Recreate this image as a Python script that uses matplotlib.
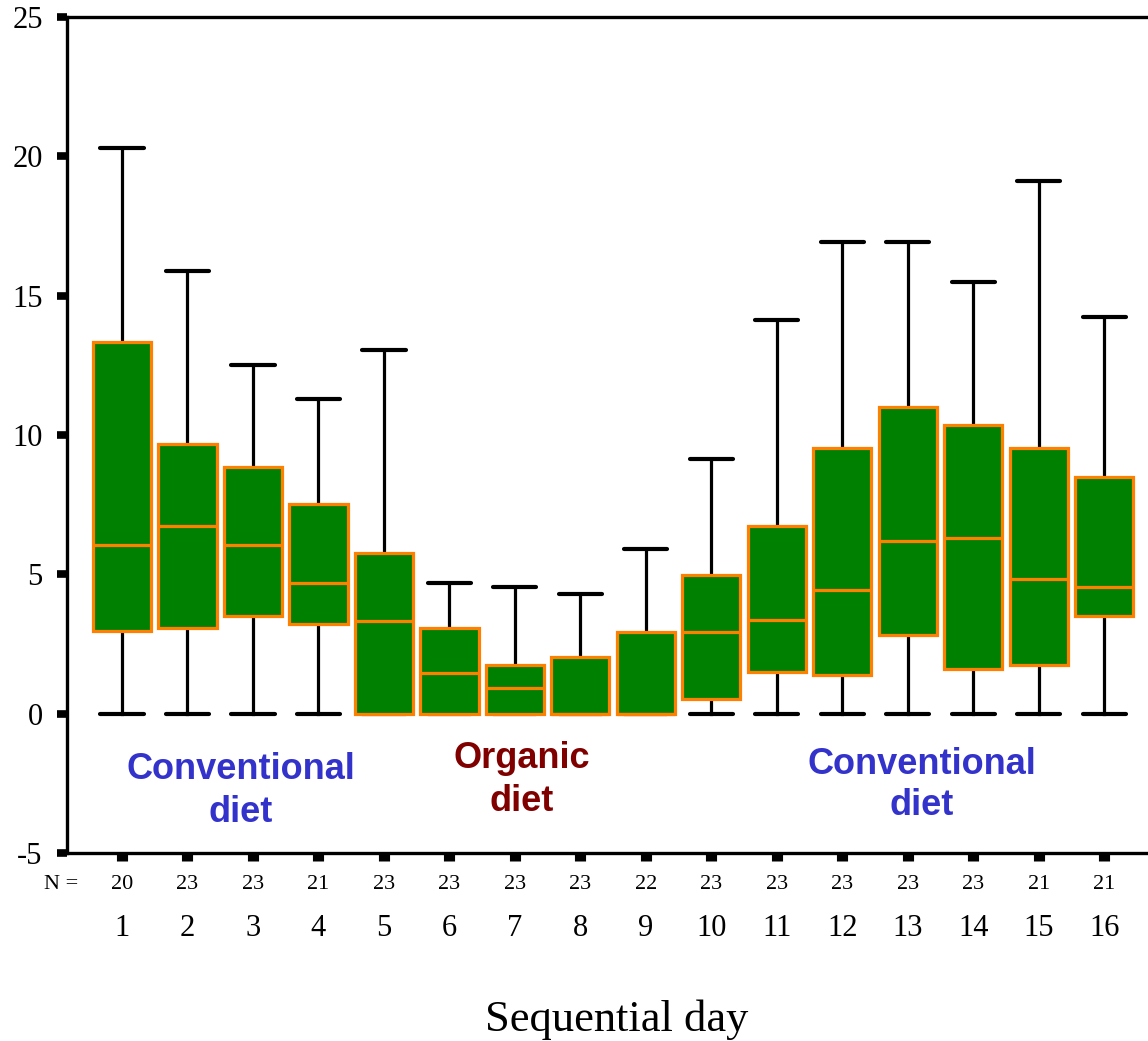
import matplotlib
matplotlib.use("Agg")
import matplotlib.pyplot as plt

plt.rcParams['axes.unicode_minus'] = False

days = list(range(1, 17))
n_counts = [20, 23, 23, 21, 23, 23, 23, 23, 22, 23, 23, 23, 23, 23, 21, 21]
whis_lo = [0, 0, 0, 0, 0, 0, 0, 0, 0, 0, 0, 0, 0, 0, 0, 0]
q1 = [2.97, 3.08, 3.51, 3.22, 0, 0, 0, 0, 0, 0.54, 1.48, 1.37, 2.84, 1.60, 1.75, 3.51]
median = [6.05, 6.74, 6.05, 4.70, 3.33, 1.46, 0.92, 0, 0, 2.94, 3.35, 4.45, 6.18, 6.31, 4.83, 4.55]
q3 = [13.33, 9.66, 8.85, 7.54, 5.77, 3.09, 1.73, 2.04, 2.94, 4.96, 6.73, 9.53, 11.02, 10.35, 9.53, 8.48]
whis_hi = [20.3, 15.9, 12.52, 11.29, 13.05, 4.70, 4.55, 4.30, 5.92, 9.15, 14.12, 16.93, 16.93, 15.48, 19.1, 14.25]
yticks = [-5, 0, 5, 10, 15, 20, 25]

W, H = 1148, 1041
fig = plt.figure(figsize=(W / 100, H / 100), dpi=100)
ax = fig.add_axes([67 / W, 1 - 853 / H, 1 - 67 / W, (853 - 17) / H])

stats = []
for i in range(len(days)):
    stats.append(dict(whislo=whis_lo[i], q1=q1[i], med=median[i], q3=q3[i],
                      whishi=whis_hi[i], fliers=[], label=str(days[i])))

orange = '#ff8000'
green = '#008000'
ax.bxp(stats, positions=days, widths=0.89, capwidths=0.66, patch_artist=True,
       showfliers=False,
       boxprops=dict(facecolor=green, edgecolor=orange, linewidth=2.3, zorder=3),
       medianprops=dict(color=orange, linewidth=2.3, zorder=4),
       whiskerprops=dict(color='black', linewidth=2.3, zorder=2),
       capprops=dict(color='black', linewidth=3.0, zorder=2, solid_capstyle='round'),
       manage_ticks=False)

ax.set_xlim(0.16, 16.67)
ax.set_ylim(-5, 25)
ax.set_yticks(yticks)
ax.set_yticklabels([str(v) for v in yticks], fontsize=22, family='Liberation Serif')
ax.set_xticks(days)
ax.set_xticklabels([str(d) for d in days], fontsize=22, family='Liberation Serif')

ax.spines['right'].set_visible(False)
for s in ['left', 'top', 'bottom']:
    ax.spines[s].set_linewidth(2.4)
ax.tick_params(axis='y', direction='out', length=7.5, width=5.5, pad=10)
ax.tick_params(axis='x', direction='out', length=6, width=8, pad=38)

serif = 'Liberation Serif'
for d, n in zip(days, n_counts):
    ax.text(d, -0.0375, str(n), transform=ax.get_xaxis_transform(),
            ha='center', va='center', fontsize=16, family=serif, clip_on=False)
ax.text(0.068, -0.0375, 'N =', transform=ax.get_xaxis_transform(),
        ha='center', va='center', fontsize=16, family=serif, clip_on=False)

blue = '#3333cc'
dred = '#800000'
ax.text(2.82, -2.78, 'Conventional\ndiet', ha='center', va='center', fontsize=26,
        fontweight='bold', family='Liberation Sans', color=blue, linespacing=1.3)
ax.text(7.1, -2.38, 'Organic\ndiet', ha='center', va='center', fontsize=26,
        fontweight='bold', family='Liberation Sans', color=dred, linespacing=1.3)
ax.text(13.22, -2.56, 'Conventional\ndiet', ha='center', va='center', fontsize=26,
        fontweight='bold', family='Liberation Sans', color=blue, linespacing=1.25)

fig.text(617 / W, 1 - 1020 / H, 'Sequential day', ha='center', va='center',
         fontsize=32, family=serif)

fig.savefig('out.png', dpi=100)
